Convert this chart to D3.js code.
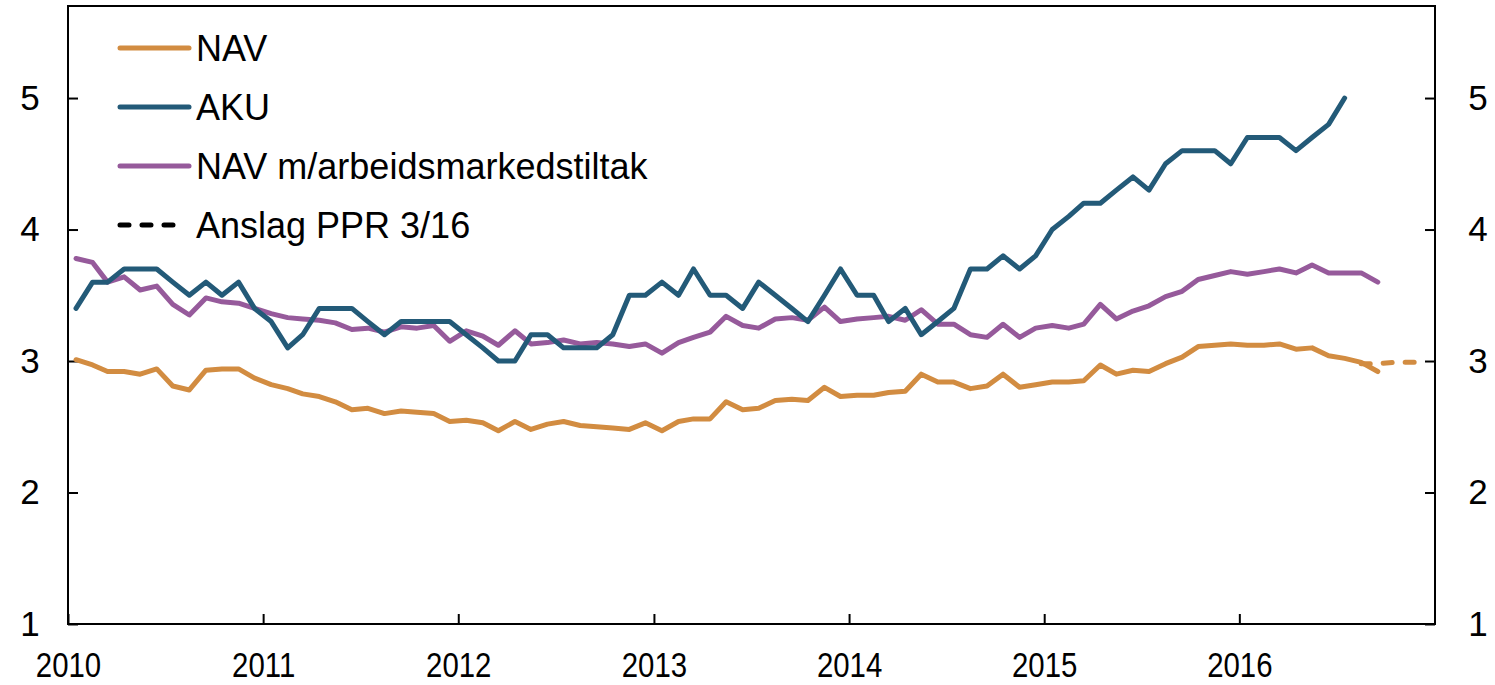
<!DOCTYPE html>
<html>
<head>
<meta charset="utf-8">
<script src="https://cdn.jsdelivr.net/npm/d3@7"></script>
<style>
  body { margin: 0; background: #fff; }
  svg { display: block; font-family: "Liberation Sans", Arial, sans-serif; }
</style>
</head>
<body>
<script>
// Månedlige tall, jan 2010 -> sep 2016
var startAar = 2010;
var navVerdier = [3.01,2.97,2.92,2.92,2.90,2.94,2.81,2.78,2.93,2.94,2.94,2.87,
  2.82,2.79,2.75,2.73,2.69,2.63,2.64,2.60,2.62,2.61,2.60,2.54,
  2.55,2.53,2.47,2.54,2.48,2.52,2.54,2.51,2.50,2.49,2.48,2.53,
  2.47,2.54,2.56,2.56,2.69,2.63,2.64,2.70,2.71,2.70,2.80,2.73,
  2.74,2.74,2.76,2.77,2.90,2.84,2.84,2.79,2.81,2.90,2.80,2.82,
  2.84,2.84,2.85,2.97,2.90,2.93,2.92,2.98,3.03,3.11,3.12,3.13,
  3.12,3.12,3.13,3.09,3.10,3.04,3.02,2.99,2.92];
var akuVerdier = [3.4,3.6,3.6,3.7,3.7,3.7,3.6,3.5,3.6,3.5,3.6,3.4,
  3.3,3.1,3.2,3.4,3.4,3.4,3.3,3.2,3.3,3.3,3.3,3.3,
  3.2,3.1,3.0,3.0,3.2,3.2,3.1,3.1,3.1,3.2,3.5,3.5,
  3.6,3.5,3.7,3.5,3.5,3.4,3.6,3.5,3.4,3.3,3.5,3.7,
  3.5,3.5,3.3,3.4,3.2,3.3,3.4,3.7,3.7,3.8,3.7,3.8,
  4.0,4.1,4.2,4.2,4.3,4.4,4.3,4.5,4.6,4.6,4.6,4.5,
  4.7,4.7,4.7,4.6,4.7,4.8,5.0];
var tiltakVerdier = [3.78,3.75,3.60,3.64,3.54,3.57,3.43,3.35,3.48,3.45,3.44,3.40,
  3.36,3.33,3.32,3.31,3.29,3.24,3.25,3.22,3.26,3.25,3.27,3.15,
  3.23,3.19,3.12,3.23,3.13,3.14,3.16,3.13,3.14,3.13,3.11,3.13,
  3.06,3.14,3.18,3.22,3.34,3.27,3.25,3.32,3.33,3.31,3.41,3.30,
  3.32,3.33,3.34,3.31,3.39,3.28,3.28,3.20,3.18,3.28,3.18,3.25,
  3.27,3.25,3.28,3.43,3.32,3.38,3.42,3.49,3.53,3.62,3.65,3.68,
  3.66,3.68,3.70,3.67,3.73,3.67,3.67,3.67,3.60];
// Anslag PPR 3/16, aug -> des 2016
var anslagStart = 79;
var anslagVerdier = [2.98,2.98,2.99,2.99,2.99];

var serieNavn = ["NAV", "AKU", "NAV m/arbeidsmarkedstiltak", "Anslag PPR 3/16"];
var serieFarger = ["#d28c41", "#235a78", "#965a9b", "#000000"];
var yTicks = [1, 2, 3, 4, 5];
var xTickAar = [2010, 2011, 2012, 2013, 2014, 2015, 2016];

var width = 1495, height = 685;
var plotV = 68, plotH = 1435, plotTopp = 6, plotBunn = 624;

var svg = d3.select("body").append("svg").attr("width", width).attr("height", height);

var xScale = d3.scaleTime()
  .domain([new Date(2010, 0, 1), new Date(2017, 0, 1)])
  .range([plotV, plotH]);
var yScale = d3.scaleLinear().domain([1, 5.7]).range([plotBunn, plotTopp]);

function maaned(i) { return new Date(startAar, i, 16); }

function tilPunkter(verdier, start) {
  return verdier.map(function (v, i) { return { d: maaned(start + i), v: v }; });
}

var linje = d3.line()
  .x(function (p) { return xScale(p.d); })
  .y(function (p) { return yScale(p.v); });

// Ramme
svg.append("rect")
  .attr("x", plotV).attr("y", plotTopp)
  .attr("width", plotH - plotV).attr("height", plotBunn - plotTopp)
  .attr("fill", "none").attr("stroke", "#000").attr("stroke-width", 2);

// Akser
var yVenstre = d3.axisLeft(yScale).tickValues(yTicks).tickFormat(d3.format("d"))
  .tickSizeInner(-10).tickSizeOuter(0).tickPadding(22);
var yHoyre = d3.axisRight(yScale).tickValues(yTicks).tickFormat(d3.format("d"))
  .tickSizeInner(-10).tickSizeOuter(0).tickPadding(30);
var xAkse = d3.axisBottom(xScale)
  .tickValues(xTickAar.map(function (a) { return new Date(a, 0, 1); }))
  .tickFormat(d3.timeFormat("%Y"))
  .tickSizeInner(-10).tickSizeOuter(0).tickPadding(28);

function stilAkse(g) {
  g.select(".domain").remove();
  g.selectAll(".tick line").attr("stroke", "#000").attr("stroke-width", 2);
  g.selectAll(".tick text").attr("fill", "#000").style("font-size", "35px")
    .style("font-family", "\"Liberation Sans\", Arial, sans-serif");
}

svg.append("g").attr("transform", "translate(" + plotV + ",0)").call(yVenstre).call(stilAkse)
  .selectAll(".tick text").attr("text-anchor", "middle").attr("x", -38);
svg.append("g").attr("transform", "translate(" + plotH + ",0)").call(yHoyre).call(stilAkse)
  .selectAll(".tick text").attr("text-anchor", "middle").attr("x", 43);
var xg = svg.append("g").attr("transform", "translate(0," + plotBunn + ")").call(xAkse).call(stilAkse);
xg.selectAll(".tick text").attr("dy", "0.71em").attr("transform", "scale(0.84,1)");

// Serier
var grafGruppe = svg.append("g").attr("fill", "none")
  .attr("stroke-width", 5).attr("stroke-linejoin", "round").attr("stroke-linecap", "round");

grafGruppe.append("path").datum(tilPunkter(anslagVerdier, anslagStart))
  .attr("d", linje).attr("stroke", serieFarger[0]).attr("stroke-dasharray", "9,13");
grafGruppe.append("path").datum(tilPunkter(navVerdier, 0))
  .attr("d", linje).attr("stroke", serieFarger[0]);
grafGruppe.append("path").datum(tilPunkter(tiltakVerdier, 0))
  .attr("d", linje).attr("stroke", serieFarger[2]);
grafGruppe.append("path").datum(tilPunkter(akuVerdier, 0))
  .attr("d", linje).attr("stroke", serieFarger[1]);

// Tegnforklaring
var legend = svg.append("g");
serieNavn.forEach(function (navn, i) {
  var y = 48 + i * 59;
  var l = legend.append("line")
    .attr("x1", 120).attr("x2", 189).attr("y1", y).attr("y2", y)
    .attr("stroke", serieFarger[i]).attr("stroke-width", 5).attr("stroke-linecap", "round");
  if (i == 3) l.attr("stroke-dasharray", "9,13").attr("x2", 180);
  legend.append("text")
    .attr("x", 196).attr("y", y).attr("dy", "0.35em")
    .style("font-size", "36px").text(navn);
});
</script>
</body>
</html>
